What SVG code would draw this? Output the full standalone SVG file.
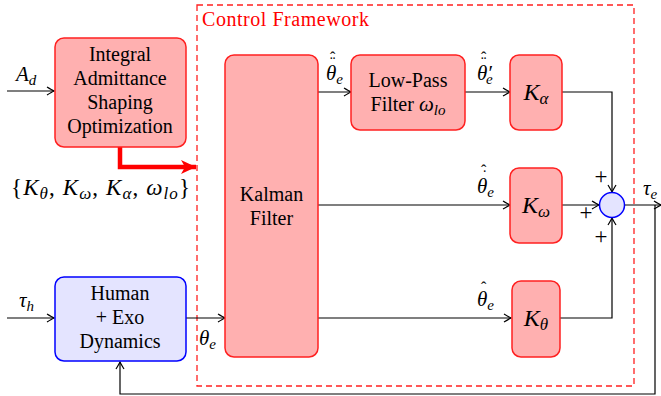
<svg xmlns="http://www.w3.org/2000/svg" width="661" height="396" viewBox="0 0 661 396">
<style>
text{font-family:'Liberation Serif','Times New Roman','DejaVu Serif',serif}
.lbl{font-size:20px}
.m{font-style:italic;font-size:21px}
.sub{font-size:15px;font-style:italic}
.kk{font-style:italic;font-size:24px}
.ks{font-size:17px;font-style:italic}
.acc{font-size:16px;font-style:normal}
.pl{font-size:23px}
.rb{fill:#ffb0b0;stroke:#ff2020;stroke-width:1.5}
.bb{fill:#e4e4ff;stroke:#0000ff;stroke-width:1.5}
.ln{fill:none;stroke:#000;stroke-width:1.2}
</style>
<defs>
<marker id="a" viewBox="-9 -5 10 10" refX="0" refY="0" markerWidth="10" markerHeight="10" orient="auto" markerUnits="userSpaceOnUse">
<path d="M-7,-4 Q-2,-1 0,0 Q-2,1 -7,4" fill="none" stroke="#000" stroke-width="1.2"/>
</marker>
<marker id="ra" viewBox="-16 -9 17 18" refX="0" refY="0" markerWidth="17" markerHeight="18" orient="auto" markerUnits="userSpaceOnUse">
<path d="M-15,-7 L0,0 L-15,7 L-11,0 Z" fill="#ff0000"/>
</marker>
</defs>

<g id="frame">
<rect x="197" y="5" width="437" height="381" fill="none" stroke="#ff2020" stroke-width="1.3" stroke-dasharray="6,4"/>
<text x="202" y="26" style="font-size:20px;fill:#ff0000" textLength="167" lengthAdjust="spacing">Control Framework</text>
</g>

<g id="connectors">
<line class="ln" x1="7" y1="91" x2="54" y2="91" marker-end="url(#a)"/>
<polyline points="120,147 120,167 196,167" fill="none" stroke="#ff0000" stroke-width="4.5" marker-end="url(#ra)"/>
<line class="ln" x1="7" y1="318" x2="54" y2="318" marker-end="url(#a)"/>
<line class="ln" x1="186" y1="318" x2="225" y2="318" marker-end="url(#a)"/>
<line class="ln" x1="318" y1="92" x2="351" y2="92" marker-end="url(#a)"/>
<line class="ln" x1="465" y1="92" x2="510" y2="92" marker-end="url(#a)"/>
<line class="ln" x1="318" y1="205" x2="510" y2="205" marker-end="url(#a)"/>
<line class="ln" x1="318" y1="318" x2="511" y2="318" marker-end="url(#a)"/>
<polyline class="ln" points="562,92 612,92 612,192" marker-end="url(#a)"/>
<line class="ln" x1="562" y1="205" x2="599" y2="205" marker-end="url(#a)"/>
<polyline class="ln" points="560,318 612,318 612,218" marker-end="url(#a)"/>
<line class="ln" x1="625" y1="205" x2="661" y2="205" marker-end="url(#a)"/>
<polyline class="ln" points="655,205 655,394 120,394 120,362" marker-end="url(#a)"/>
</g>

<g id="labels">
<text x="16" y="81" class="m">A<tspan class="sub" dy="4">d</tspan></text>
<text x="19" y="307" class="m">τ<tspan class="sub" dy="4">h</tspan></text>
<text x="199" y="345" class="m">θ<tspan class="sub" dy="4">e</tspan></text>
<text x="11" y="195" style="font-size:23px" textLength="179" lengthAdjust="spacing">{<tspan font-style="italic">K</tspan><tspan class="ks" dy="4">θ</tspan><tspan dy="-4">, </tspan><tspan font-style="italic">K</tspan><tspan class="ks" dy="4">ω</tspan><tspan dy="-4">, </tspan><tspan font-style="italic">K</tspan><tspan class="ks" dy="4">α</tspan><tspan dy="-4">, </tspan><tspan font-style="italic">ω</tspan><tspan class="ks" dy="4">lo</tspan><tspan dy="-4">}</tspan></text>

<text x="326" y="80" class="m">θ<tspan class="sub" dy="4">e</tspan><tspan class="acc" x="330" y="68">¨</tspan><tspan class="acc" x="330" y="63">ˆ</tspan></text>

<text x="477" y="80" class="m">θ′<tspan class="sub" dy="4" dx="-6">e</tspan><tspan class="acc" x="481" y="68">¨</tspan><tspan class="acc" x="481" y="63">ˆ</tspan></text>

<text x="477" y="193" class="m">θ<tspan class="sub" dy="4">e</tspan><tspan class="acc" x="482" y="181">˙</tspan><tspan class="acc" x="481" y="176">ˆ</tspan></text>

<text x="477" y="306" class="m">θ<tspan class="sub" dy="4">e</tspan><tspan class="acc" x="481" y="293">ˆ</tspan></text>

<text x="643" y="195" class="m">τ<tspan class="sub" dy="4">e</tspan></text>
<text x="601" y="184" class="pl" text-anchor="middle">+</text>
<text x="586" y="220" class="pl" text-anchor="middle">+</text>
<text x="601" y="244" class="pl" text-anchor="middle">+</text>
</g>

<g id="iaso">
<rect class="rb" x="55" y="38" width="131" height="109" rx="9"/>
<text class="lbl" text-anchor="middle" x="120" y="61">Integral</text>
<text class="lbl" text-anchor="middle" x="120" y="85">Admittance</text>
<text class="lbl" text-anchor="middle" x="120" y="109">Shaping</text>
<text class="lbl" text-anchor="middle" x="120" y="133">Optimization</text>
</g>

<g id="human">
<rect class="bb" x="55" y="277" width="131" height="84" rx="9"/>
<text class="lbl" text-anchor="middle" x="120" y="300">Human</text>
<text class="lbl" text-anchor="middle" x="120" y="324">+ Exo</text>
<text class="lbl" text-anchor="middle" x="120" y="348">Dynamics</text>
</g>

<g id="kalman">
<rect class="rb" x="225" y="55" width="93" height="302" rx="9"/>
<text class="lbl" text-anchor="middle" x="271.5" y="201">Kalman</text>
<text class="lbl" text-anchor="middle" x="271.5" y="225">Filter</text>
</g>

<g id="lowpass">
<rect class="rb" x="351" y="55" width="114" height="75" rx="9"/>
<text class="lbl" text-anchor="middle" x="408" y="87">Low-Pass</text>
<text class="lbl" text-anchor="middle" x="408" y="111">Filter <tspan class="m">ω</tspan><tspan class="sub" dy="4">lo</tspan></text>
</g>

<g id="ka">
<rect class="rb" x="510" y="55" width="52" height="75" rx="9"/>
<text x="536" y="100" text-anchor="middle" class="kk">K<tspan class="ks" dy="4">α</tspan></text>
</g>

<g id="kw">
<rect class="rb" x="510" y="168" width="52" height="75" rx="9"/>
<text x="536" y="213" text-anchor="middle" class="kk">K<tspan class="ks" dy="4">ω</tspan></text>
</g>

<g id="kt">
<rect class="rb" x="512" y="281" width="48" height="76" rx="9"/>
<text x="536" y="326" text-anchor="middle" class="kk">K<tspan class="ks" dy="4">θ</tspan></text>
</g>

<g id="sum">
<circle cx="612" cy="205" r="12.5" class="bb"/>
</g>
</svg>
